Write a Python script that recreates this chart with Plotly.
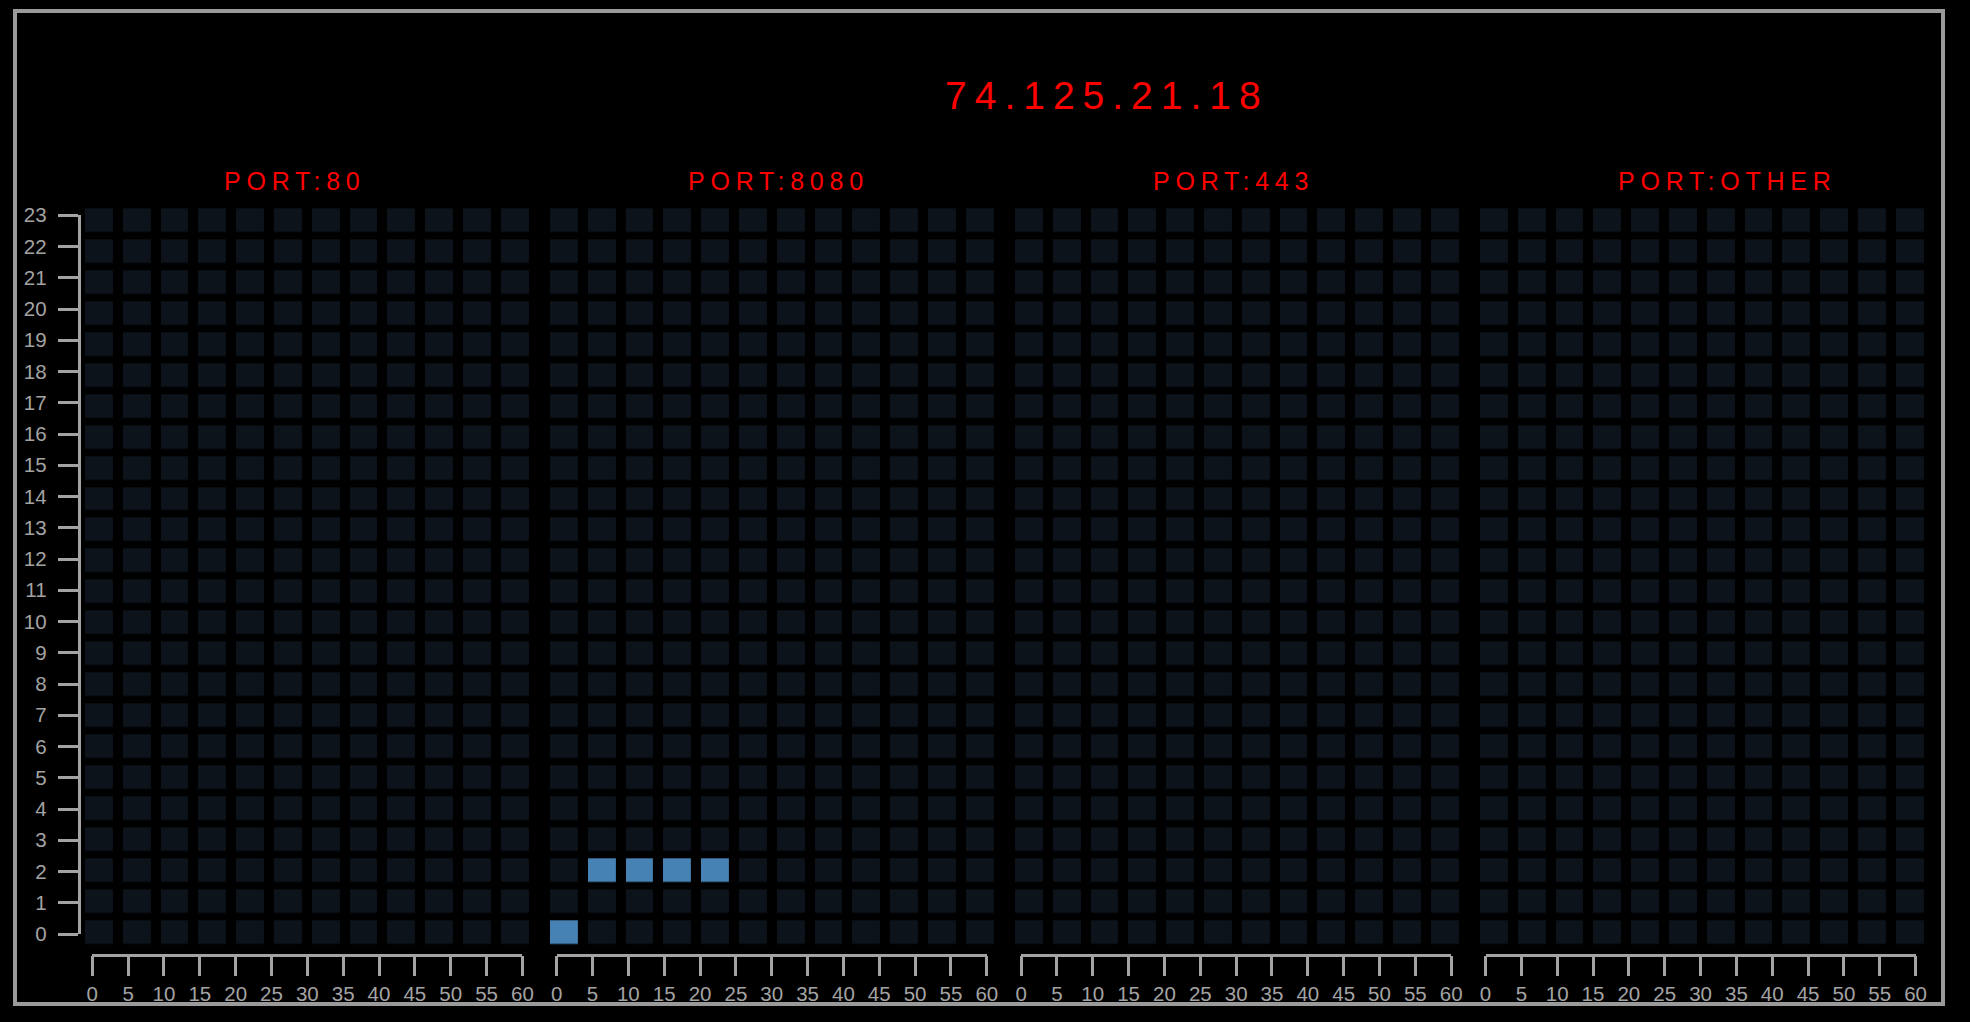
import plotly.graph_objects as go

# ---------------- data ----------------
TITLE = "74.125.21.18"
PORTS = ["PORT:80", "PORT:8080", "PORT:443", "PORT:OTHER"]
HOURS = [0, 1, 2, 3, 4, 5, 6, 7, 8, 9, 10, 11, 12, 13, 14, 15, 16, 17, 18, 19, 20, 21, 22, 23]
MINUTE_BINS = [0, 5, 10, 15, 20, 25, 30, 35, 40, 45, 50, 55]
X_TICKS = [0, 5, 10, 15, 20, 25, 30, 35, 40, 45, 50, 55, 60]

# observed connections (port, hour, 5-minute bin start)
ACTIVE_PORT = ["PORT:8080", "PORT:8080", "PORT:8080", "PORT:8080", "PORT:8080"]
ACTIVE_HOUR = [0, 2, 2, 2, 2]
ACTIVE_MINUTE = [0, 5, 10, 15, 20]
ACTIVE_COUNT = [1, 1, 1, 1, 1]

# ---------------- layout helpers ----------------
W, H = 1970, 1022
FONT = "Liberation Sans, Arial, Helvetica, sans-serif"
AXIS_COLOR = "#a3a3a3"
EMPTY = "#0c131b"
FILLED = "#4682b4"
TICK_SIZE = 20.5


def fx(px):
    return px / W


def fy(py):
    return 1 - py / H


fig = go.Figure()

layout = dict(
    width=W, height=H,
    margin=dict(l=0, r=0, t=0, b=0, pad=0, autoexpand=False),
    paper_bgcolor="#000000",
    plot_bgcolor="rgba(0,0,0,0)",
    showlegend=False,
    font=dict(family=FONT, color=AXIS_COLOR),
)

# shared heatmap y axis (cells)
layout["yaxis"] = dict(domain=[fy(948.0), fy(205.3)], range=[-0.5, 23.5],
                       visible=False, anchor="x", fixedrange=True)
# tick y axis
layout["yaxis2"] = dict(domain=[fy(934.0), fy(215.3)], range=[0, 23],
                        anchor="free", position=fx(78.5), side="left",
                        tickmode="array", tickvals=HOURS, ticktext=[str(h) for h in HOURS],
                        ticks="outside", ticklen=20, tickwidth=2.5, tickcolor=AXIS_COLOR,
                        showline=True, linecolor=AXIS_COLOR, linewidth=2.5,
                        showgrid=False, zeroline=False, ticklabelstandoff=7,
                        automargin=False,
                        tickfont=dict(size=TICK_SIZE, color=AXIS_COLOR, family=FONT),
                        fixedrange=True)

annotations = []
for k, port in enumerate(PORTS):
    # grid of counts for this port
    z = [[0 for _ in MINUTE_BINS] for _ in HOURS]
    for p, h, m, c in zip(ACTIVE_PORT, ACTIVE_HOUR, ACTIVE_MINUTE, ACTIVE_COUNT):
        if p == port:
            z[HOURS.index(h)][MINUTE_BINS.index(m)] += c

    cx = "x" if k == 0 else f"x{k + 1}"
    cx_key = "xaxis" if k == 0 else f"xaxis{k + 1}"
    left = 80.0 + 465.0 * k
    layout[cx_key] = dict(domain=[fx(left), fx(left + 453.5)], range=[-2.5, 57.5],
                          visible=False, anchor="y", fixedrange=True)
    fig.add_trace(go.Heatmap(
        z=z, x=MINUTE_BINS, y=HOURS, xaxis=cx, yaxis="y",
        zmin=0, zmax=1, colorscale=[[0, EMPTY], [1, FILLED]],
        showscale=False, xgap=10.1, ygap=7.4, hoverinfo="skip",
    ))

    # tick axis for minutes
    tx_n = k + 5
    t0 = 92.3 + 464.4 * k
    layout[f"xaxis{tx_n}"] = dict(domain=[fx(t0), fx(t0 + 430.1)], range=[0, 60],
                                  anchor="free", position=fy(954.7), side="bottom",
                                  tickmode="array", tickvals=X_TICKS,
                                  ticktext=[str(t) for t in X_TICKS],
                                  ticks="outside", ticklen=20, tickwidth=2.5,
                                  tickcolor=AXIS_COLOR, showline=True,
                                  linecolor=AXIS_COLOR, linewidth=2.5,
                                  showgrid=False, zeroline=False, ticklabelstandoff=0,
                                  automargin=False,
                                  tickfont=dict(size=TICK_SIZE, color=AXIS_COLOR, family=FONT),
                                  fixedrange=True)
    fig.add_trace(go.Scatter(x=[X_TICKS[0], X_TICKS[-1]], y=[HOURS[0], HOURS[-1]],
                             xaxis=f"x{tx_n}", yaxis="y2", mode="markers",
                             marker=dict(opacity=0), hoverinfo="skip"))

    annotations.append(dict(
        text=port, xref="paper", yref="paper",
        x=fx(223.5 + 464.7 * k), y=fy(181.1), xanchor="left", yanchor="middle",
        align="left", showarrow=False, borderpad=0, borderwidth=0,
        font=dict(size=25, color="#ff0000", family=FONT),
    ))

annotations.append(dict(
    text=TITLE, xref="paper", yref="paper",
    x=fx(945.0), y=fy(95.9), xanchor="left", yanchor="middle",
    align="left", showarrow=False, borderpad=0, borderwidth=0,
    font=dict(size=39, color="#ff0000", family=FONT),
))

layout["annotations"] = annotations
layout["shapes"] = [dict(type="rect", xref="paper", yref="paper",
                         x0=fx(15), x1=fx(1943), y0=fy(1004), y1=fy(11),
                         line=dict(color="#9a9a9a", width=4), fillcolor="rgba(0,0,0,0)")]

fig.update_layout(**layout)

post = """
var gd = document.getElementById('{plot_id}');
function spaceOut(){
  gd.querySelectorAll('g.annotation text').forEach(function(t){
    var s = parseFloat(t.style.fontSize);
    t.style.letterSpacing = (s > 30 ? '8px' : '5.8px');
  });
}
spaceOut();
gd.on('plotly_afterplot', spaceOut);
"""

fig.write_html("out.html", post_script=post, config={"displayModeBar": False})
